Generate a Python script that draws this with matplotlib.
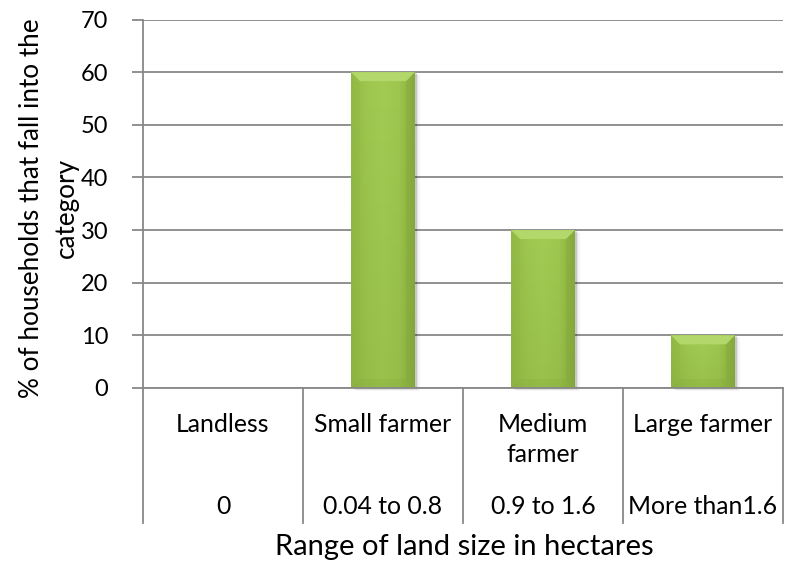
import numpy as np
import matplotlib
matplotlib.use("Agg")
import matplotlib.pyplot as plt
from matplotlib.patches import Polygon, Rectangle
from matplotlib.colors import LinearSegmentedColormap
from matplotlib.transforms import blended_transform_factory

plt.rcParams['font.family'] = ['Lato', 'DejaVu Sans']

# Data
categories = ["Landless", "Small farmer", "Medium\nfarmer", "Large farmer"]
land_ranges = ["0", "0.04 to 0.8", "0.9 to 1.6", "More than1.6"]
households_pct = [0, 60, 30, 10]
y_ticks = [0, 10, 20, 30, 40, 50, 60, 70]

W, H = 785, 565
fig = plt.figure(figsize=(W / 100, H / 100), dpi=100)

left_px, right_px, top_px, bottom_px = 143, 783, 19.5, 388
ax = fig.add_axes([left_px / W, 1 - bottom_px / H,
                   (right_px - left_px) / W, (bottom_px - top_px) / H])

grid_col = "#888888"
fs_tick = 17
fs_cat = 17.8
fs_ylab = 18.8
fs_xlab = 21

x = np.arange(len(categories))
bar_w = 0.4
bars = ax.bar(x, households_pct, width=bar_w, color="#9cc64d",
              edgecolor="none", zorder=3)

ax.set_xlim(-0.5, len(categories) - 0.5)
ax.set_ylim(0, 70)

# pixel -> data scale factors for bevel geometry
px_x = len(categories) / (right_px - left_px)
px_y = 70 / (bottom_px - top_px)
bx, by = 9 * px_x, 9 * px_y

body_cmap = LinearSegmentedColormap.from_list(
    "body", ["#93bb46", "#9dc74f", "#a2cc54", "#9dc74e", "#8aae3e"])
vcmap = LinearSegmentedColormap.from_list(
    "v", [(0.45, 0.58, 0.18, 0.18), (0.45, 0.58, 0.18, 0.0)])
for rect in bars:
    h = rect.get_height()
    if h <= 0:
        continue
    x0 = rect.get_x()
    x1 = x0 + rect.get_width()
    # soft drop shadow
    for k, a in ((1.5, 0.12), (3.0, 0.07), (4.5, 0.04)):
        ax.add_patch(Rectangle((x0 + k * px_x, -k * px_y * 0.6), x1 - x0, h,
                               facecolor="#000000", alpha=a, zorder=2.5,
                               edgecolor="none", clip_on=False))
    grad = np.linspace(0, 1, 200).reshape(1, -1)
    im = ax.imshow(grad, cmap=body_cmap, extent=[x0, x1, 0, h],
                   aspect="auto", zorder=3.1, origin="lower")
    im.set_clip_path(rect)
    # vertical shading: slightly darker toward the base
    vgrad = np.linspace(0, 1, 100).reshape(-1, 1)
    im2 = ax.imshow(vgrad, cmap=vcmap, extent=[x0, x1, 0, h],
                    aspect="auto", zorder=3.15, origin="lower")
    im2.set_clip_path(rect)
    # top bevel
    ax.add_patch(Polygon([(x0, h), (x1, h), (x1 - bx, h - by), (x0 + bx, h - by)],
                         closed=True, facecolor="#b3d76a", edgecolor="none",
                         zorder=3.2))
    # right bevel
    ax.add_patch(Polygon([(x1, h), (x1 - bx, h - by), (x1 - bx, by), (x1, 0)],
                         closed=True, facecolor="#7e9f38", edgecolor="none",
                         alpha=0.25, zorder=3.2))
    # left bevel
    ax.add_patch(Polygon([(x0, h), (x0 + bx, h - by), (x0 + bx, by), (x0, 0)],
                         closed=True, facecolor="#8cb541", edgecolor="none",
                         alpha=0.2, zorder=3.2))
    # bottom bevel
    ax.add_patch(Polygon([(x0, 0), (x1, 0), (x1 - bx, by), (x0 + bx, by)],
                         closed=True, facecolor="#7a9b34", edgecolor="none",
                         alpha=0.15, zorder=3.2))

ax.set_ylim(0, 70)
ax.set_xlim(-0.5, len(categories) - 0.5)

ax.set_yticks(y_ticks)
ax.set_yticklabels([str(v) for v in y_ticks], fontsize=fs_tick)
ax.yaxis.grid(True, color=grid_col, linewidth=1.3, zorder=0)
ax.set_axisbelow(True)
ax.tick_params(axis="y", length=8, width=1.3, color=grid_col, pad=17)
ax.set_xticks([])
for side in ["top", "right"]:
    ax.spines[side].set_visible(False)
ax.spines["left"].set_color(grid_col)
ax.spines["left"].set_linewidth(1.3)
ax.spines["bottom"].set_color(grid_col)
ax.spines["bottom"].set_linewidth(1.3)
ax.spines["bottom"].set_zorder(3.5)


# Two-level category axis drawn below the plot area
def fig_y(py):
    return 1 - py / H


div_bottom = 523
for i in range(len(categories) + 1):
    xp = left_px + i * (right_px - left_px) / len(categories)
    fig.add_artist(plt.Line2D([xp / W, xp / W], [fig_y(bottom_px), fig_y(div_bottom)],
                              color=grid_col, linewidth=1.3))

tr = blended_transform_factory(ax.transData, fig.transFigure)
for i, (cat, rng) in enumerate(zip(categories, land_ranges)):
    ax.text(i, fig_y(413), cat, transform=tr, ha="center", va="top",
            fontsize=fs_cat, linespacing=1.35, clip_on=False)
    ax.text(i, fig_y(507), rng, transform=tr, ha="center", va="center",
            fontsize=fs_cat, clip_on=False)

fig.text(464 / W, fig_y(547), "Range of land size in hectares",
         ha="center", va="center", fontsize=fs_xlab)

fig.text(49 / W, fig_y(208), "% of households that fall into the\ncategory",
         rotation=90, ha="center", va="center", fontsize=fs_ylab,
         multialignment="center", linespacing=1.45)

fig.savefig("out.png", dpi=100)
